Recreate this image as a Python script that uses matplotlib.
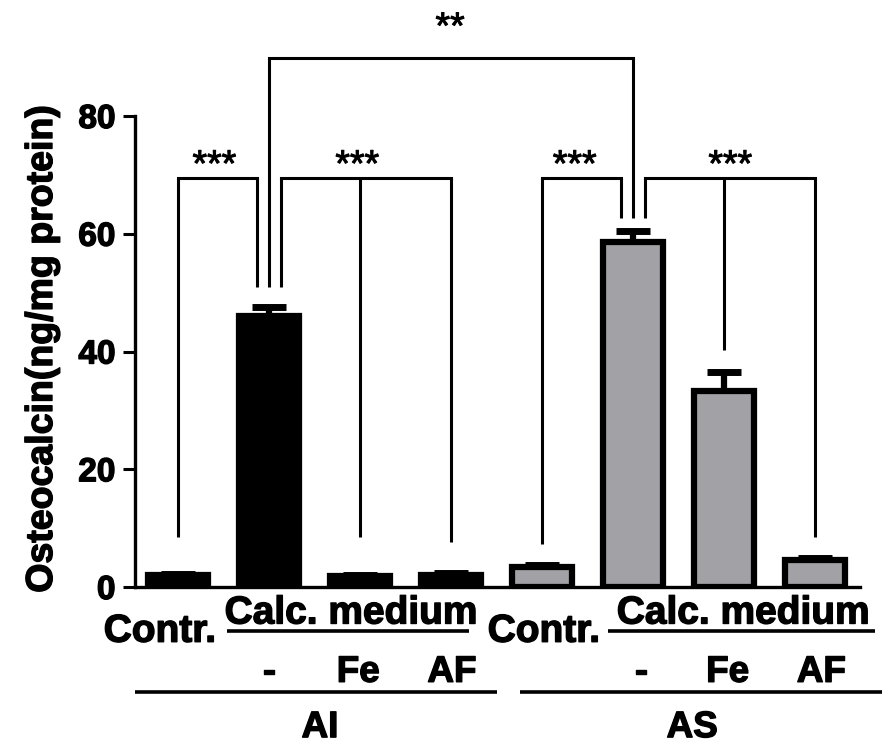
#!/usr/bin/env python3
"""Osteocalcin content, AI vs AS cells, control vs calcification medium."""

import matplotlib
matplotlib.use("Agg")
import matplotlib.pyplot as plt
import matplotlib.patheffects as pe

plt.rcParams["font.family"] = ["Liberation Sans", "DejaVu Sans"]

# bar values (ng/mg protein), order: AI Contr, AI -, AI Fe, AI AF, AS Contr, AS -, AS Fe, AS AF
groups = ["AI", "AS"]
conditions = ["Contr.", "-", "Fe", "AF"]
values = [2.0, 46.0, 1.8, 2.1, 3.4, 58.6, 33.3, 4.6]
errors = [0.2, 1.6, 0.2, 0.3, 0.3, 1.9, 3.3, 0.4]
bar_colors = ["black"] * 4 + ["#A2A2A6"] * 4

# significance brackets: leg x positions, leg bottoms, bracket height, label, label x, label lift
brackets = [
    ([0, 0.87], [8.5, 51.0], 69.5, "***", 0.40, 0.3),
    ([1.13, 2, 3], [51.0, 8.5, 7.6], 69.5, "***", 1.97, 0.3),
    ([4, 4.87], [7.3, 62.7], 69.5, "***", 4.36, 0.3),
    ([5.13, 6, 7], [62.7, 40.3, 8.5], 69.5, "***", 6.07, 0.3),
    ([1, 5], [51.0, 62.7], 89.8, "**", 2.99, 3.4),
]

heavy = [pe.withStroke(linewidth=1.0, foreground="black")]
star_fx = [pe.withStroke(linewidth=0.7, foreground="black")]

fig = plt.figure(figsize=(8.94, 7.51), dpi=100)
ax = fig.add_axes([135 / 894, 1 - 587 / 751, (860 - 135) / 894, (587 - 116) / 751])

x = list(range(len(values)))
ax.bar(x, values, width=0.66, color=bar_colors, edgecolor="black", linewidth=4.5, zorder=3)
ax.errorbar(x, values, yerr=[[0] * len(errors), errors], fmt="none", ecolor="black",
            elinewidth=4.5, capsize=12, capthick=5, zorder=2)

ax.set_xlim(-0.473, 7.495)
ax.set_ylim(0, 80)
ax.set_yticks([0, 20, 40, 60, 80])
ax.set_xticks([])
for side in ("top", "right"):
    ax.spines[side].set_visible(False)
for side in ("left", "bottom"):
    ax.spines[side].set_linewidth(2.4)
ax.tick_params(axis="y", length=9, width=2.2, pad=5, labelsize=24)
for lab in ax.get_yticklabels():
    lab.set_fontweight("bold")
    lab.set_path_effects(heavy)

fig.text(42 / 894, 1 - 349 / 751, "Osteocalcin(ng/mg protein)", rotation=90,
         ha="center", va="center", fontsize=27, fontweight="bold", path_effects=heavy)

# brackets
for xs, bottoms, top, label, lx, lift in brackets:
    for xi, yb in zip(xs, bottoms):
        ax.plot([xi, xi], [yb, top], color="black", lw=2.2, clip_on=False,
                solid_capstyle="butt", zorder=4)
    ax.plot([xs[0], xs[-1]], [top, top], color="black", lw=2.2, clip_on=False,
            solid_capstyle="projecting", zorder=4)
    ax.text(lx, top + lift, label, ha="center", va="baseline", fontsize=27,
            clip_on=False, path_effects=star_fx)

# category labels under the axis
tk = dict(ha="center", va="baseline", fontweight="bold", clip_on=False, path_effects=heavy)
line_kw = dict(color="black", lw=2.6, clip_on=False, solid_capstyle="butt")

for g, (contr_x, calc_x, ul, sub_x, gl, gx) in zip(groups, [
        (-0.20, 1.90, (0.54, 3.20), (1.0, 1.98, 3.01), (-0.47, 3.51), 1.56),
        (4.02, 6.21, (4.73, 7.66), (5.09, 6.04, 7.07), (3.76, 7.74), 5.65)]):
    ax.text(contr_x, -9.3, conditions[0], fontsize=28, **tk)
    ax.text(calc_x, -6.2, "Calc. medium", fontsize=28, **tk)
    ax.plot(ul, [-7.5, -7.5], **line_kw)
    for sx, lab in zip(sub_x, conditions[1:]):
        ax.text(sx, -16.1, lab, fontsize=26.5, **tk)
    ax.plot(gl, [-17.9, -17.9], **line_kw)
    ax.text(gx, -25.5, g, fontsize=26.5, **tk)

fig.savefig("out.png", dpi=100)
